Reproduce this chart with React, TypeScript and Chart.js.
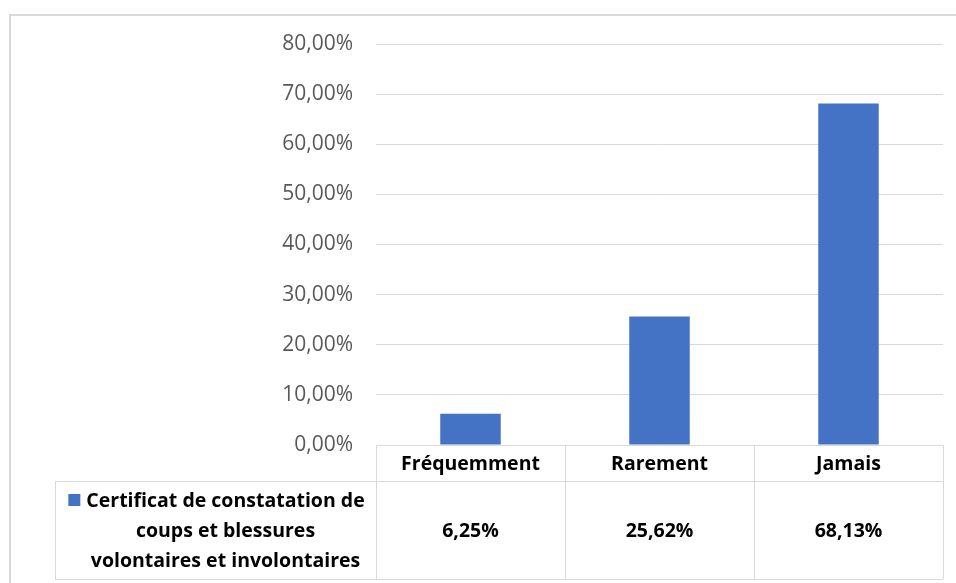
import React, { useEffect, useRef } from "react";
import { Chart, registerables } from "chart.js";

Chart.register(...registerables);

const categories = ["Fréquemment", "Rarement", "Jamais"];
const seriesName = [
  "Certificat de constatation de",
  "coups et blessures",
  "volontaires et involontaires",
];
const seriesValues = [6.25, 25.62, 68.13];
const yMax = 80;
const yStep = 10;

const BAR_COLOR = "#4472C4";
const LINE_COLOR = "#d9d9d9";
const FONT = "'Open Sans', Lato, sans-serif";

const fmtPct = (v: number) => v.toFixed(2).replace(".", ",") + "%";

// Data table under the plot: header row with categories, then the series row
const dataTablePlugin = {
  id: "dataTable",
  beforeDraw(chart: any) {
    const ctx = chart.ctx;
    ctx.save();
    ctx.strokeStyle = LINE_COLOR;
    ctx.lineWidth = 2;
    ctx.beginPath();
    ctx.moveTo(9, 15);
    ctx.lineTo(chart.width, 15);
    ctx.moveTo(10, 15);
    ctx.lineTo(10, chart.height);
    ctx.stroke();
    ctx.restore();
  },
  afterDraw(chart: any) {
    const ctx = chart.ctx;
    const area = chart.chartArea;
    const x = chart.scales.x;
    const n = categories.length;
    const colW = (area.right - area.left) / n;
    const top = area.bottom;
    const mid = top + 36;
    const bottom = top + 134;
    const legendLeft = 55;

    ctx.save();
    ctx.strokeStyle = LINE_COLOR;
    ctx.lineWidth = 1;
    ctx.beginPath();
    ctx.moveTo(legendLeft, mid + 0.5);
    ctx.lineTo(area.right, mid + 0.5);
    ctx.moveTo(legendLeft, bottom + 0.5);
    ctx.lineTo(area.right, bottom + 0.5);
    ctx.moveTo(legendLeft + 0.5, mid);
    ctx.lineTo(legendLeft + 0.5, bottom);
    for (let i = 0; i <= n; i++) {
      const cx = Math.round(area.left + i * colW) + 0.5;
      ctx.moveTo(cx, top);
      ctx.lineTo(cx, bottom);
    }
    ctx.stroke();

    ctx.fillStyle = "#000";
    ctx.font = `bold 19.5px ${FONT}`;
    ctx.textAlign = "center";
    ctx.textBaseline = "middle";
    categories.forEach((c, i) => {
      const cx = x.getPixelForValue(i);
      ctx.fillText(c, cx, (top + mid) / 2 + 1);
      ctx.fillText(fmtPct(seriesValues[i]), cx, (mid + bottom) / 2 + 1);
    });

    const legendCx = (legendLeft + area.left) / 2 + 10;
    const lineH = 30;
    const firstY = (mid + bottom) / 2 - lineH + 1;
    seriesName.forEach((line, j) => {
      ctx.fillText(line, legendCx, firstY + j * lineH);
    });
    const w0 = ctx.measureText(seriesName[0]).width;
    ctx.fillStyle = BAR_COLOR;
    ctx.fillRect(legendCx - w0 / 2 - 18, firstY - 7, 12, 12);
    ctx.restore();
  },
};

export default function App() {
  const ref = useRef<HTMLCanvasElement | null>(null);

  useEffect(() => {
    if (!ref.current) return;
    const chart = new Chart(ref.current, {
      type: "bar",
      data: {
        labels: categories,
        datasets: [
          {
            label: seriesName.join(" "),
            data: seriesValues,
            backgroundColor: BAR_COLOR,
            categoryPercentage: 1,
            barPercentage: 0.32,
          },
        ],
      },
      options: {
        animation: false,
        responsive: false,
        layout: { padding: { top: 44, right: 13, bottom: 138, left: 0 } },
        plugins: { legend: { display: false }, tooltip: { enabled: false } },
        scales: {
          x: { display: false },
          y: {
            min: 0,
            max: yMax,
            ticks: {
              stepSize: yStep,
              padding: 23,
              color: "#595959",
              font: { family: FONT, size: 21 },
              callback: (v: any) => fmtPct(Number(v)),
            },
            grid: { color: LINE_COLOR, drawTicks: false },
            border: { display: false },
            afterFit: (scale: any) => {
              scale.width = 376;
            },
          },
        },
      },
      plugins: [dataTablePlugin],
    });
    return () => chart.destroy();
  }, []);

  return (
    <div style={{ position: "absolute", left: 0, top: 0, width: 956, height: 583, background: "#fff" }}>
      <canvas ref={ref} width={956} height={583} />
    </div>
  );
}
